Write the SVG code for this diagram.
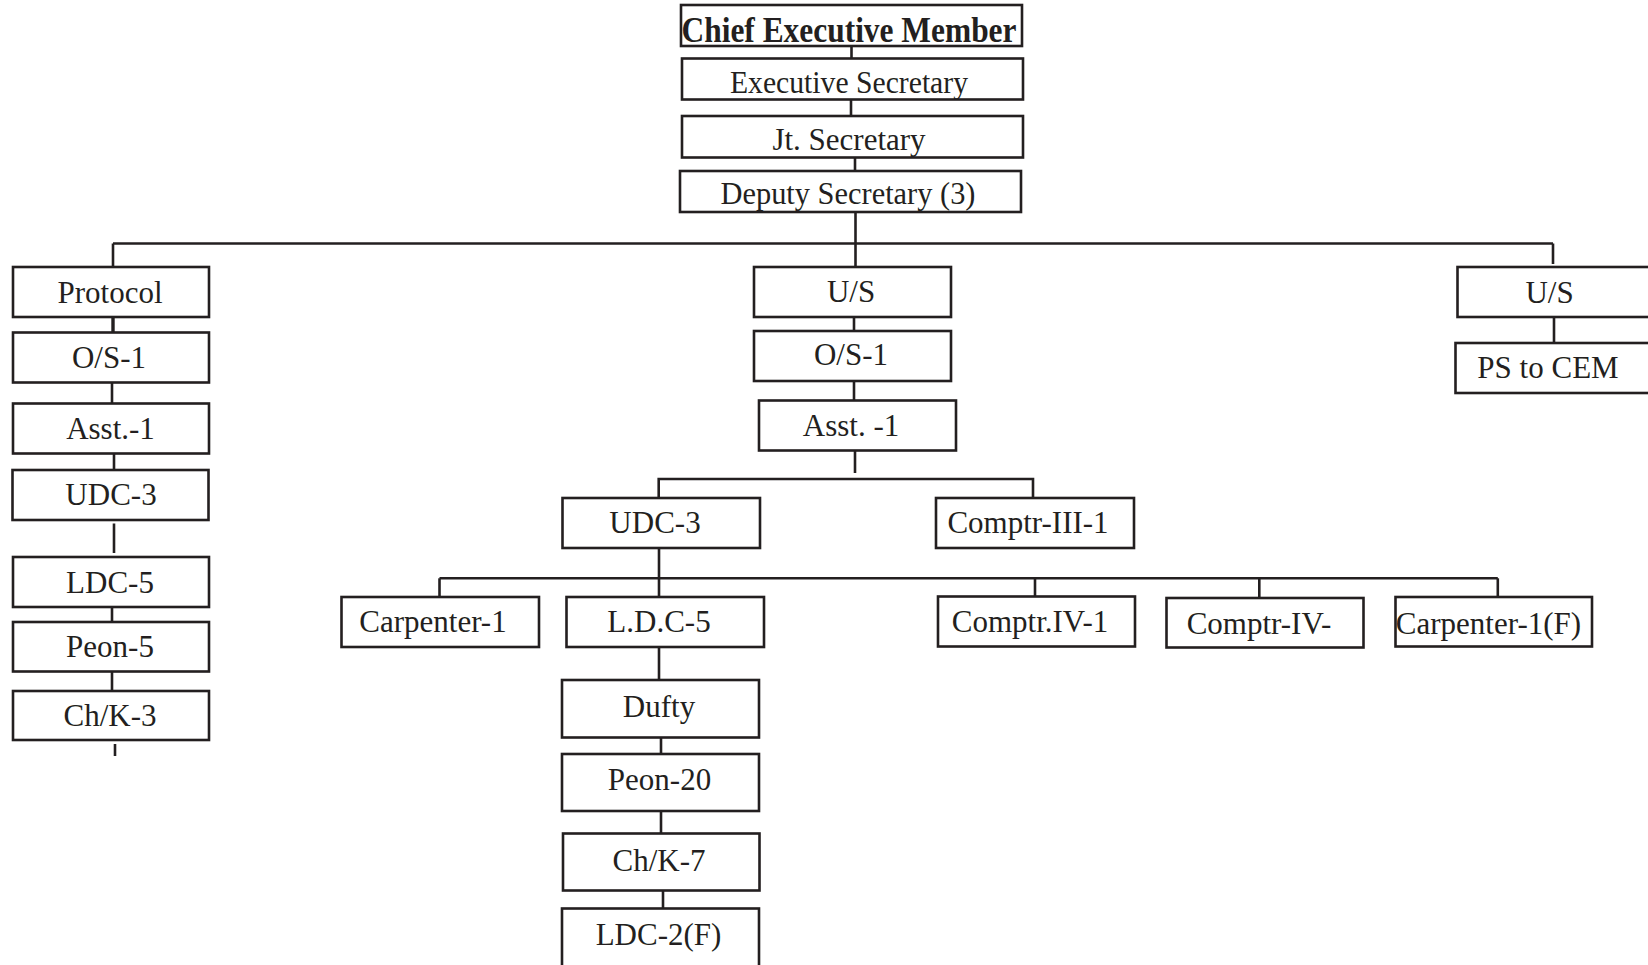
<svg xmlns="http://www.w3.org/2000/svg" width="1648" height="965" viewBox="0 0 1648 965">
  <style>
    .box { fill: #ffffff; stroke: #231f20; stroke-width: 2.6; }
    .lbl { font-family: "Liberation Serif", "Times New Roman", serif; font-size: 31px; fill: #231f20; text-anchor: middle; }
    .head { font-weight: bold; font-size: 35px; }
    .wire { fill: none; stroke: #231f20; stroke-width: 2.6; }
  </style>
  <rect width="1648" height="965" fill="#ffffff"/>

  <!-- connectors -->
  <g id="connectors" class="wire">
    <line x1="851.5" y1="45" x2="851.5" y2="59"/>
    <line x1="851" y1="99" x2="851" y2="116"/>
    <line x1="855" y1="157" x2="855" y2="171"/>
    <line x1="855.5" y1="212" x2="855.5" y2="267"/>
    <line x1="113" y1="243.5" x2="1553" y2="243.5"/>
    <line x1="113" y1="243.5" x2="113" y2="267"/>
    <line x1="1553" y1="243.5" x2="1553" y2="264"/>
    <line x1="1554" y1="317" x2="1554" y2="343"/>
    <!-- left column -->
    <line x1="113" y1="317" x2="113" y2="332.5" stroke-width="3.4"/>
    <line x1="112" y1="382.5" x2="112" y2="403.5"/>
    <line x1="114" y1="453.5" x2="114" y2="470"/>
    <line x1="114" y1="523.5" x2="114" y2="553"/>
    <line x1="112" y1="607" x2="112" y2="622"/>
    <line x1="112" y1="671.5" x2="112" y2="691"/>
    <line x1="115" y1="744" x2="115" y2="756"/>
    <!-- centre column -->
    <line x1="854" y1="317" x2="854" y2="331"/>
    <line x1="854" y1="381" x2="854" y2="400.5"/>
    <line x1="855" y1="450.5" x2="855" y2="473"/>
    <path d="M658.7 498 V479 H1033 V498"/>
    <line x1="659" y1="548" x2="659" y2="597"/>
    <line x1="439.5" y1="578.3" x2="1497.8" y2="578.3"/>
    <line x1="439.5" y1="578.3" x2="439.5" y2="597"/>
    <line x1="1035" y1="578.3" x2="1035" y2="596.5"/>
    <line x1="1259.3" y1="578.3" x2="1259.3" y2="598"/>
    <line x1="1497.8" y1="578.3" x2="1497.8" y2="597"/>
    <line x1="659" y1="647" x2="659" y2="680"/>
    <line x1="661" y1="737.5" x2="661" y2="754"/>
    <line x1="661" y1="811" x2="661" y2="833.5"/>
    <line x1="663" y1="890.5" x2="663" y2="908.5"/>
  </g>

  <!-- top chain -->
  <g id="chief-executive-member">
    <rect class="box" x="681" y="5" width="341" height="41"/>
    <text class="lbl head" x="849" y="42" textLength="335" lengthAdjust="spacingAndGlyphs">Chief Executive Member</text>
  </g>
  <g id="executive-secretary">
    <rect class="box" x="682" y="58.5" width="341" height="41"/>
    <text class="lbl" x="849" y="93" textLength="238" lengthAdjust="spacingAndGlyphs">Executive Secretary</text>
  </g>
  <g id="jt-secretary">
    <rect class="box" x="682" y="116" width="341" height="41.5"/>
    <text class="lbl" x="849" y="150">Jt. Secretary</text>
  </g>
  <g id="deputy-secretary">
    <rect class="box" x="680" y="171" width="341" height="41"/>
    <text class="lbl" x="848" y="204" textLength="255" lengthAdjust="spacingAndGlyphs">Deputy Secretary (3)</text>
  </g>

  <!-- left branch -->
  <g id="protocol">
    <rect class="box" x="13" y="267" width="196" height="50"/>
    <text class="lbl" x="110" y="302.5">Protocol</text>
  </g>
  <g id="os-1-left">
    <rect class="box" x="13" y="332.5" width="196" height="50"/>
    <text class="lbl" x="109" y="368">O/S-1</text>
  </g>
  <g id="asst-1-left">
    <rect class="box" x="13" y="403.5" width="196" height="50"/>
    <text class="lbl" x="110.5" y="439">Asst.-1</text>
  </g>
  <g id="udc-3-left">
    <rect class="box" x="12.5" y="470" width="196" height="50"/>
    <text class="lbl" x="111" y="505">UDC-3</text>
  </g>
  <g id="ldc-5-left">
    <rect class="box" x="13" y="557" width="196" height="50"/>
    <text class="lbl" x="110" y="592.5">LDC-5</text>
  </g>
  <g id="peon-5">
    <rect class="box" x="13" y="622" width="196" height="49.5"/>
    <text class="lbl" x="110" y="657">Peon-5</text>
  </g>
  <g id="chk-3">
    <rect class="box" x="13" y="691" width="196" height="49"/>
    <text class="lbl" x="110" y="726">Ch/K-3</text>
  </g>

  <!-- centre branch -->
  <g id="us-centre">
    <rect class="box" x="754" y="267" width="197" height="50"/>
    <text class="lbl" x="851" y="302">U/S</text>
  </g>
  <g id="os-1-centre">
    <rect class="box" x="754" y="331" width="197" height="50"/>
    <text class="lbl" x="851" y="365">O/S-1</text>
  </g>
  <g id="asst-1-centre">
    <rect class="box" x="759" y="400.5" width="197" height="50"/>
    <text class="lbl" x="851" y="436">Asst. -1</text>
  </g>
  <g id="udc-3-centre">
    <rect class="box" x="562.5" y="498" width="197.5" height="50"/>
    <text class="lbl" x="655" y="533">UDC-3</text>
  </g>
  <g id="comptr-iii-1">
    <rect class="box" x="936" y="498" width="198" height="50"/>
    <text class="lbl" x="1028" y="533">Comptr-III-1</text>
  </g>
  <g id="carpenter-1">
    <rect class="box" x="341.5" y="597" width="197.5" height="50"/>
    <text class="lbl" x="433" y="632">Carpenter-1</text>
  </g>
  <g id="ldc-5-centre">
    <rect class="box" x="566.5" y="597" width="197.5" height="50"/>
    <text class="lbl" x="659" y="632">L.D.C-5</text>
  </g>
  <g id="comptr-iv-1">
    <rect class="box" x="938" y="596.5" width="197" height="50"/>
    <text class="lbl" x="1030" y="632">Comptr.IV-1</text>
  </g>
  <g id="comptr-iv">
    <rect class="box" x="1166.5" y="598" width="197" height="49.5"/>
    <text class="lbl" x="1259" y="634">Comptr-IV-</text>
  </g>
  <g id="carpenter-1-f">
    <rect class="box" x="1395.5" y="597" width="196.5" height="49.5"/>
    <text class="lbl" x="1488.5" y="634">Carpenter-1(F)</text>
  </g>
  <g id="dufty">
    <rect class="box" x="562" y="680" width="197" height="57.5"/>
    <text class="lbl" x="659" y="717">Dufty</text>
  </g>
  <g id="peon-20">
    <rect class="box" x="562" y="754" width="197" height="57"/>
    <text class="lbl" x="659.5" y="790">Peon-20</text>
  </g>
  <g id="chk-7">
    <rect class="box" x="563" y="833.5" width="196.5" height="57"/>
    <text class="lbl" x="659" y="871">Ch/K-7</text>
  </g>
  <g id="ldc-2-f">
    <rect class="box" x="562" y="908.5" width="197" height="62"/>
    <text class="lbl" x="658.5" y="945">LDC-2(F)</text>
  </g>

  <!-- right branch -->
  <g id="us-right">
    <rect class="box" x="1457.5" y="267" width="200" height="50"/>
    <text class="lbl" x="1549.5" y="303">U/S</text>
  </g>
  <g id="ps-to-cem">
    <rect class="box" x="1455.5" y="343" width="200" height="50"/>
    <text class="lbl" x="1548" y="378">PS to CEM</text>
  </g>
</svg>
